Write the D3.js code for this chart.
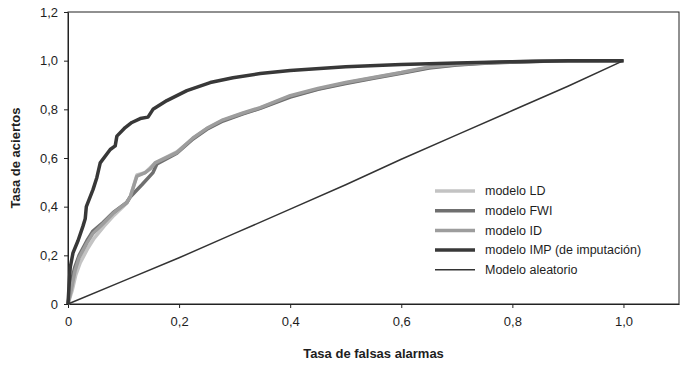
<!DOCTYPE html>
<html lang="es">
<head>
  <meta charset="UTF-8">
  <title>Curvas ROC</title>
  <script src="https://cdnjs.cloudflare.com/ajax/libs/d3/7.8.5/d3.min.js"></script>
  <style>
    body { margin: 0; background: #fff; }
    #chart { width: 681px; height: 366px; }
    text { font-family: "Liberation Sans", Arial, sans-serif; fill: #1e1e1e; }
    .axis path, .axis line { stroke: #222; }
  </style>
</head>
<body>
  <div id="chart"></div>
  <script>
    // tick values
    const xTicks = [0, 0.2, 0.4, 0.6, 0.8, 1.0];
    const yTicks = [0, 0.2, 0.4, 0.6, 0.8, 1.0, 1.2];

    // modelo IMP (de imputación)
    const impX = [0, 0.002, 0.004, 0.009, 0.018, 0.027, 0.031, 0.033, 0.045, 0.052, 0.058, 0.076, 0.085, 0.088, 0.103, 0.115, 0.13, 0.144, 0.153, 0.178, 0.214, 0.256, 0.297, 0.346, 0.4, 0.5, 0.6, 0.7, 0.8, 0.9, 1.0];
    const impY = [0, 0.08, 0.15, 0.21, 0.26, 0.32, 0.35, 0.40, 0.47, 0.52, 0.58, 0.635, 0.65, 0.69, 0.725, 0.746, 0.762, 0.768, 0.80, 0.836, 0.877, 0.91, 0.93, 0.947, 0.96, 0.975, 0.984, 0.99, 0.996, 1.0, 1.0];

    // modelo LD
    const ldX = [0, 0.004, 0.008, 0.014, 0.022, 0.036, 0.047, 0.065, 0.083, 0.106, 0.112, 0.124, 0.139, 0.148, 0.157, 0.196, 0.225, 0.25, 0.279, 0.315, 0.346, 0.4, 0.45, 0.5, 0.55, 0.6, 0.65, 0.7, 0.75, 0.8, 0.87, 1.0];
    const ldY = [0, 0.03, 0.06, 0.12, 0.17, 0.23, 0.27, 0.32, 0.365, 0.415, 0.44, 0.53, 0.54, 0.56, 0.58, 0.625, 0.68, 0.72, 0.755, 0.783, 0.805, 0.853, 0.883, 0.908, 0.93, 0.95, 0.972, 0.983, 0.99, 0.995, 1.0, 1.0];

    // modelo FWI
    const fwiX = [0, 0.003, 0.006, 0.012, 0.02, 0.034, 0.045, 0.063, 0.081, 0.106, 0.112, 0.133, 0.153, 0.16, 0.196, 0.225, 0.25, 0.279, 0.315, 0.346, 0.4, 0.45, 0.5, 0.55, 0.6, 0.65, 0.7, 0.75, 0.8, 0.87, 1.0];
    const fwiY = [0, 0.05, 0.09, 0.15, 0.2, 0.26, 0.3, 0.335, 0.375, 0.418, 0.44, 0.49, 0.54, 0.575, 0.62, 0.678, 0.718, 0.752, 0.781, 0.804, 0.85, 0.882, 0.906, 0.928, 0.948, 0.97, 0.982, 0.989, 0.994, 0.999, 1.0];

    // modelo ID
    const idX = [0, 0.004, 0.007, 0.013, 0.02, 0.034, 0.045, 0.063, 0.081, 0.106, 0.112, 0.124, 0.139, 0.148, 0.157, 0.196, 0.225, 0.25, 0.279, 0.315, 0.346, 0.4, 0.45, 0.5, 0.55, 0.6, 0.65, 0.7, 0.75, 0.8, 0.87, 1.0];
    const idY = [0, 0.04, 0.07, 0.14, 0.19, 0.25, 0.29, 0.33, 0.372, 0.418, 0.44, 0.525, 0.54, 0.555, 0.58, 0.622, 0.682, 0.722, 0.757, 0.785, 0.807, 0.856, 0.886, 0.91, 0.931, 0.951, 0.974, 0.985, 0.991, 0.996, 1.0, 1.0];

    // Modelo aleatorio
    const randX = [0, 0.1, 0.2, 0.3, 0.4, 0.5, 0.6, 0.7, 0.8, 0.9, 1.0];
    const randY = [0, 0.095, 0.19, 0.29, 0.39, 0.49, 0.595, 0.695, 0.795, 0.895, 1.0];

    const seriesNames = ["modelo LD", "modelo FWI", "modelo ID", "modelo IMP (de imputación)", "Modelo aleatorio"];

    const series = [
      { name: seriesNames[0], xs: ldX, ys: ldY, color: "#c3c3c3", width: 3.5 },
      { name: seriesNames[1], xs: fwiX, ys: fwiY, color: "#6f6f6f", width: 3.5 },
      { name: seriesNames[2], xs: idX, ys: idY, color: "#9d9d9d", width: 3.5 },
      { name: seriesNames[3], xs: impX, ys: impY, color: "#383838", width: 3.5 },
      { name: seriesNames[4], xs: randX, ys: randY, color: "#333333", width: 1.5 }
    ];

    const margin = { top: 12, right: 2, bottom: 62, left: 68 };
    const width = 681 - margin.left - margin.right;
    const height = 366 - margin.top - margin.bottom;

    const svg = d3.select("#chart")
      .append("svg")
        .attr("width", 681)
        .attr("height", 366)
      .append("g")
        .attr("transform", `translate(${margin.left},${margin.top})`);

    const x = d3.scaleLinear().domain([0, 1.1]).range([0, width]);
    const y = d3.scaleLinear().domain([0, 1.2]).range([height, 0]);

    const fmt = d => d === 0 ? "0" : d3.format(".1f")(d).replace(".", ",");

    // frame
    svg.append("rect")
      .attr("width", width)
      .attr("height", height)
      .attr("fill", "none")
      .attr("stroke", "#222")
      .attr("stroke-width", 1);

    const xAxis = svg.append("g")
      .attr("class", "axis")
      .attr("transform", `translate(0,${height})`)
      .call(d3.axisBottom(x).tickValues(xTicks).tickFormat(fmt).tickSize(4).tickPadding(9).tickSizeOuter(0));
    xAxis.selectAll("text").attr("font-size", 13).style("font-family", "Liberation Sans, Arial, sans-serif");

    const yAxis = svg.append("g")
      .attr("class", "axis")
      .call(d3.axisLeft(y).tickValues(yTicks).tickFormat(fmt).tickSize(4).tickPadding(6).tickSizeOuter(0));
    yAxis.selectAll("text").attr("font-size", 13).style("font-family", "Liberation Sans, Arial, sans-serif");

    // axis titles
    svg.append("text")
      .attr("x", width / 2)
      .attr("y", height + 54)
      .attr("text-anchor", "middle")
      .attr("font-size", 13)
      .attr("font-weight", "bold")
      .text("Tasa de falsas alarmas");

    svg.append("text")
      .attr("transform", `translate(${-48},${height / 2}) rotate(-90)`)
      .attr("text-anchor", "middle")
      .attr("font-size", 13)
      .attr("font-weight", "bold")
      .text("Tasa de aciertos");

    const line = d3.line()
      .x(d => x(d[0]))
      .y(d => y(d[1]));

    series.forEach(s => {
      svg.append("path")
        .datum(s.xs.map((v, i) => [v, s.ys[i]]))
        .attr("fill", "none")
        .attr("stroke", s.color)
        .attr("stroke-width", s.width)
        .attr("stroke-linejoin", "round")
        .attr("d", line);
    });

    // legend
    const legend = svg.append("g")
      .attr("transform", `translate(${435 - margin.left},${191 - margin.top})`);

    series.forEach((s, i) => {
      const row = legend.append("g").attr("transform", `translate(0,${i * 19.7})`);
      row.append("line")
        .attr("x1", 0).attr("x2", 40)
        .attr("y1", 0).attr("y2", 0)
        .attr("stroke", s.color)
        .attr("stroke-width", s.width);
      row.append("text")
        .attr("x", 50)
        .attr("y", 0)
        .attr("dy", "0.35em")
        .attr("font-size", 12.5)
        .text(s.name);
    });
  </script>
</body>
</html>
